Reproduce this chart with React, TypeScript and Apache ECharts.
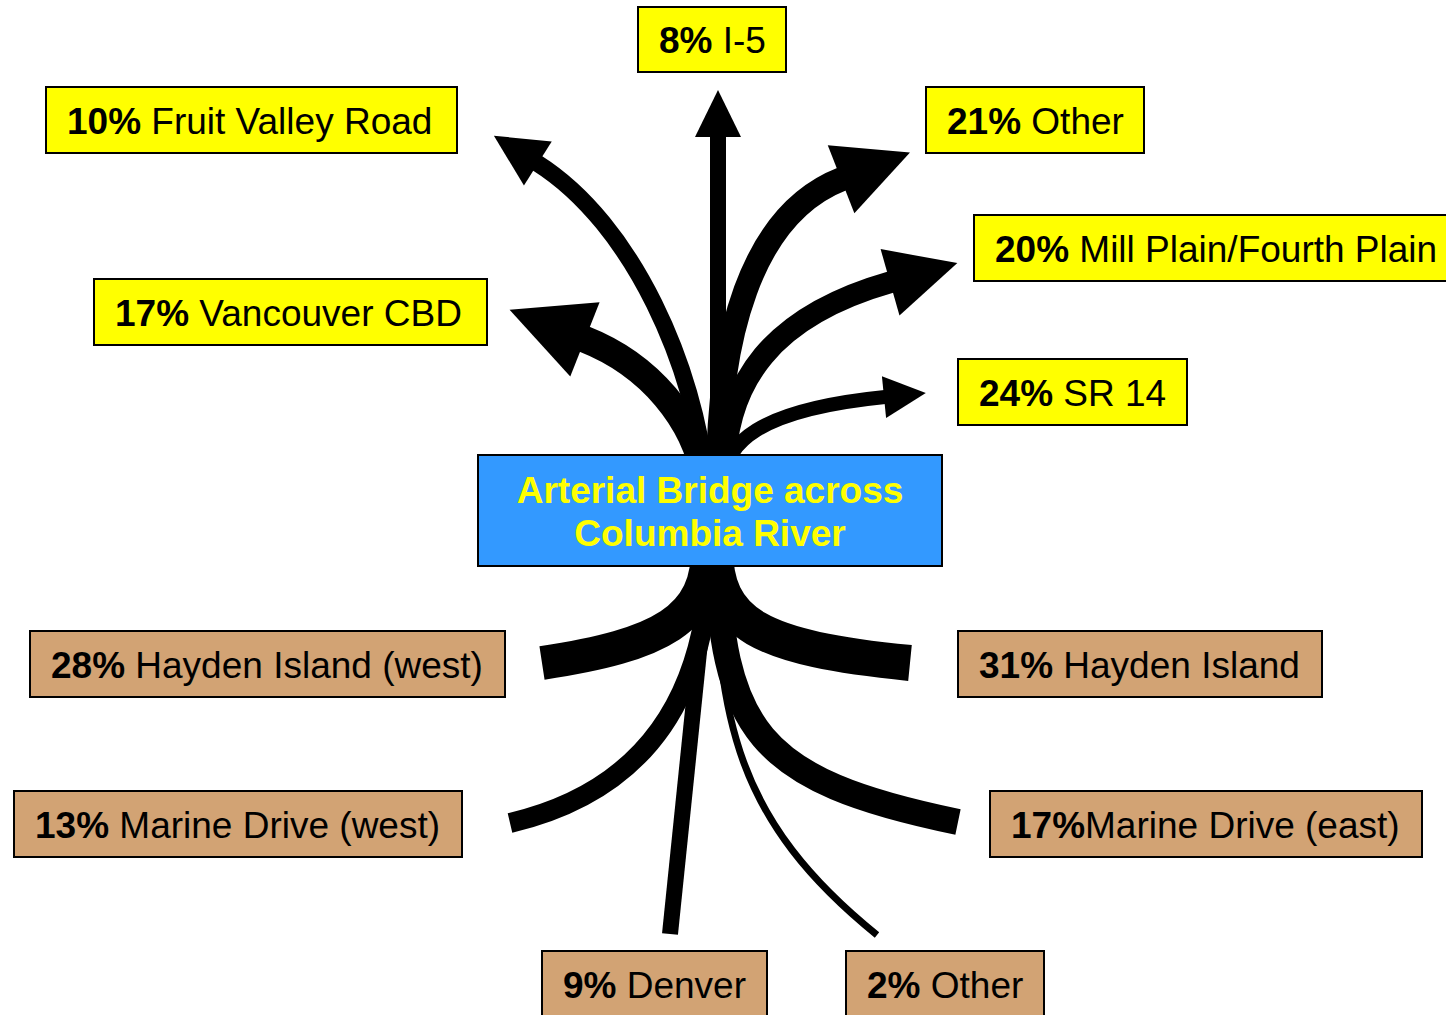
import React, { useEffect, useRef } from "react";
import * as echarts from "echarts";

// ---------- data ----------
const destinationNames = ["I-5", "Fruit Valley Road", "Other", "Mill Plain/Fourth Plain", "Vancouver CBD", "SR 14"];
const destinationShares = [8, 10, 21, 20, 17, 24];
const originNames = ["Hayden Island (west)", "Hayden Island", "Marine Drive (west)", "Marine Drive (east)", "Denver", "Other"];
const originShares = [28, 31, 13, 17, 9, 2];
const originGaps = [" ", " ", " ", "", " ", " "];
const hubLabel = "Arterial Bridge across\nColumbia River";

// ---------- layout (coordinate space 1446 x 1015) ----------
const destinationBoxes = [
  [638, 7, 148, 65],
  [46, 87, 411, 66],
  [926, 87, 218, 66],
  [974, 215, 480, 66],
  [94, 279, 393, 66],
  [958, 359, 229, 66],
];
const originBoxes = [
  [30, 631, 475, 66],
  [958, 631, 364, 66],
  [14, 791, 448, 66],
  [990, 791, 432, 66],
  [542, 951, 225, 66],
  [846, 951, 198, 66],
];
const hubBox = [478, 455, 464, 111];

// cubic bezier [x0,y0, c1x,c1y, c2x,c2y, x1,y1]
const destinationPaths = [
  [718, 480, 718, 380, 718, 250, 718, 136],
  [706, 480, 695, 370, 635, 225, 537, 163],
  [718, 480, 718, 340, 750, 215, 842, 179],
  [725, 480, 722, 380, 775, 315, 891, 282],
  [705, 480, 695, 420, 650, 365, 584, 339],
  [725, 480, 725, 445, 755, 410, 885, 397],
];
const destinationStroke = [16, 17, 24, 22, 27, 14];
const destinationHeads = [
  [46, 46],
  [51, 52],
  [73, 73],
  [69, 69],
  [80, 80],
  [41, 42],
];
const originPaths = [
  [708, 545, 710, 620, 660, 645, 542, 663],
  [715, 545, 714, 625, 760, 648, 910, 663],
  [710, 545, 710, 690, 650, 790, 510, 823],
  [716, 545, 722, 730, 755, 780, 958, 822],
  [710, 545, 696, 675, 684, 805, 670, 934],
  [714, 545, 718, 720, 735, 820, 877, 935],
];
const originStroke = [34, 36, 20, 26, 16, 7];

const FONT = "'Liberation Sans', Arial, Helvetica, sans-serif";
const FS = 37;
const YELLOW = "#FFFF00";
const TAN = "#D2A374";
const BLUE = "#3399FF";

type Flow = { path: number[]; width: number; head: number[] | null };
const flows: Flow[] = [
  ...destinationPaths.map((p, i) => ({ path: p, width: destinationStroke[i], head: destinationHeads[i] })),
  ...originPaths.map((p, i) => ({ path: p, width: originStroke[i], head: null })),
];
const flowData = [
  ...destinationShares.map((s, i) => ({ name: destinationNames[i], value: [destinationPaths[i][6], destinationPaths[i][7], s] })),
  ...originShares.map((s, i) => ({ name: originNames[i], value: [originPaths[i][6], originPaths[i][7], s] })),
];

type Label = { box: number[]; fill: string; text: string };
const labels: Label[] = [
  ...destinationNames.map((n, i) => ({ box: destinationBoxes[i], fill: YELLOW, text: `{b|${destinationShares[i]}%} ${n}` })),
  ...originNames.map((n, i) => ({ box: originBoxes[i], fill: TAN, text: `{b|${originShares[i]}%}${originGaps[i]}${n}` })),
];
const labelData = [
  ...destinationShares.map((s, i) => ({ name: destinationNames[i], value: [destinationBoxes[i][0], destinationBoxes[i][1], s] })),
  ...originShares.map((s, i) => ({ name: originNames[i], value: [originBoxes[i][0], originBoxes[i][1], s] })),
];

function renderFlow(params: any, api: any) {
  const f = flows[params.dataIndex];
  const p = f.path;
  const a = api.coord([p[0], p[1]]);
  const c1 = api.coord([p[2], p[3]]);
  const c2 = api.coord([p[4], p[5]]);
  const b = api.coord([p[6], p[7]]);
  const children: any[] = [
    {
      type: "bezierCurve",
      shape: { x1: a[0], y1: a[1], cpx1: c1[0], cpy1: c1[1], cpx2: c2[0], cpy2: c2[1], x2: b[0], y2: b[1] },
      style: { stroke: "#000", lineWidth: f.width, fill: null, lineCap: "butt" },
    },
  ];
  if (f.head) {
    let dx = b[0] - c2[0];
    let dy = b[1] - c2[1];
    const L = Math.hypot(dx, dy) || 1;
    dx /= L;
    dy /= L;
    const [len, wid] = f.head;
    const px = -dy;
    const py = dx;
    children.push({
      type: "polygon",
      shape: {
        points: [
          [b[0] + dx * len, b[1] + dy * len],
          [b[0] + px * wid / 2 - dx * 1, b[1] + py * wid / 2 - dy * 1],
          [b[0] - px * wid / 2 - dx * 1, b[1] - py * wid / 2 - dy * 1],
        ],
      },
      style: { fill: "#000" },
    });
  }
  return { type: "group", children };
}

function renderLabel(params: any, api: any) {
  const l = labels[params.dataIndex];
  const [x, y, w, h] = l.box;
  const tl = api.coord([x, y]);
  const br = api.coord([x + w, y + h]);
  return {
    type: "group",
    children: [
      {
        type: "rect",
        shape: { x: tl[0], y: tl[1], width: br[0] - tl[0], height: br[1] - tl[1] },
        style: { fill: l.fill, stroke: "#000", lineWidth: 2 },
      },
      {
        type: "text",
        x: tl[0] + 21,
        y: (tl[1] + br[1]) / 2 + 1,
        style: {
          text: l.text,
          fontFamily: FONT,
          fontSize: FS,
          fill: "#000",
          align: "left",
          verticalAlign: "middle",
          rich: { b: { fontFamily: FONT, fontSize: FS, fontWeight: "bold", fill: "#000" } },
        },
      },
    ],
  };
}

function renderHub(params: any, api: any) {
  const [x, y, w, h] = hubBox;
  const tl = api.coord([x, y]);
  const br = api.coord([x + w, y + h]);
  return {
    type: "group",
    children: [
      {
        type: "rect",
        shape: { x: tl[0], y: tl[1], width: br[0] - tl[0], height: br[1] - tl[1] },
        style: { fill: BLUE, stroke: "#000", lineWidth: 2 },
      },
      {
        type: "text",
        x: (tl[0] + br[0]) / 2,
        y: (tl[1] + br[1]) / 2 + 1,
        style: {
          text: hubLabel,
          fontFamily: FONT,
          fontSize: 37,
          fontWeight: "bold",
          lineHeight: 43,
          fill: YELLOW,
          align: "center",
          verticalAlign: "middle",
        },
      },
    ],
  };
}

export default function App() {
  const ref = useRef<HTMLDivElement>(null);
  useEffect(() => {
    document.body.style.margin = "0";
    document.body.style.overflow = "hidden";
    if (!ref.current) return;
    const chart = echarts.init(ref.current, null, { renderer: "svg" });
    chart.setOption({
      animation: false,
      backgroundColor: "#ffffff",
      grid: { left: 0, right: 0, top: 0, bottom: 0 },
      xAxis: { type: "value", min: 0, max: 1446, show: false },
      yAxis: { type: "value", min: 0, max: 1015, inverse: true, show: false },
      tooltip: { show: false },
      series: [
        { type: "custom", name: "flows", renderItem: renderFlow, data: flowData, z: 2, silent: true, clip: false },
        { type: "custom", name: "labels", renderItem: renderLabel, data: labelData, z: 4, silent: true, clip: false },
        { type: "custom", name: "hub", renderItem: renderHub, data: [{ name: hubLabel, value: [hubBox[0], hubBox[1]] }], z: 5, silent: true, clip: false },
      ],
    });
    return () => chart.dispose();
  }, []);
  return <div ref={ref} style={{ width: 1446, height: 1015, margin: 0, background: "#fff" }} />;
}
